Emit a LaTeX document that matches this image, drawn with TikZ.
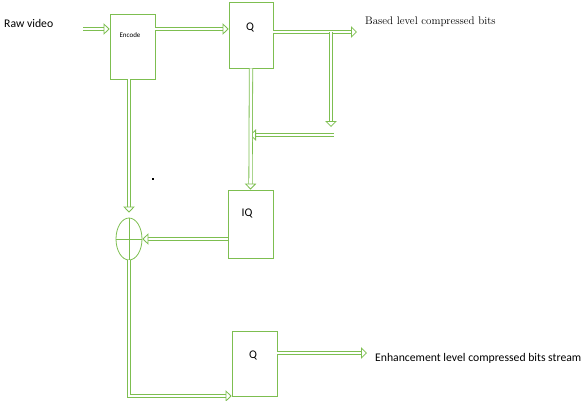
\documentclass[tikz,border=0pt]{standalone}
\usepackage{fontspec}
\setsansfont{Carlito}
\usetikzlibrary{arrows.meta,shapes.geometric}
\definecolor{lg}{RGB}{125,190,80}
\begin{document}
\begin{tikzpicture}[x=1pt,y=-1pt,
 box/.style={draw=lg, line width=0.8pt, minimum width=45pt, minimum height=65pt, inner sep=0pt},
 dbl/.style={draw=lg, line width=0.8pt, double=white, double distance=2.6pt, shorten >=5pt},
 tip/.style={draw=white, line width=0.2pt, -{Triangle[open, length=6pt, width=11.5pt, line width=0.8pt, color=lg, fill=white]}},
 lbl/.style={font=\sffamily\fontsize{11.7}{13}\selectfont, inner sep=0pt}]
\useasboundingbox (0,0) rectangle (583,400);
\node[box] (enc) at (132.5,46.5) {};
\node[lbl, font=\sffamily\fontsize{7}{8}\selectfont] (enct) at (130,35) {Encode};
\node[box, minimum width=44pt, minimum height=66pt] (q1) at (251,35) {};
\node[lbl] (q1t) at (250,27) {Q};
\node[box, minimum height=68pt] (iq) at (250.5,224) {};
\node[lbl] (iqt) at (247,213) {IQ};
\node[box] (q2) at (254.5,363.5) {};
\node[lbl] (q2t) at (253,355) {Q};
\node[draw=lg, line width=0.8pt, ellipse, minimum width=26pt, minimum height=42pt, inner sep=0pt] (add) at (129,239) {};
\draw[lg, line width=0.8pt] (add.north) -- (add.south) (add.west) -- (add.east);
\node[lbl, anchor=west] (raw) at (4,23) {Raw video};
\node[anchor=west, inner sep=0pt, font=\rmfamily\fontsize{11}{13}\selectfont] (base) at (365,22) {Based level compressed bits};
\node[lbl, anchor=west] (enh) at (375,358) {Enhancement level compressed bits stream};
\fill (152,178) rectangle (154,180);
\coordinate (r0) at (83,29);
\coordinate (o1) at (357,32);
\coordinate (b1) at (331,32);
\coordinate (b2) at (331,127);
\coordinate (h1) at (334,135);
\coordinate (h2) at (250,135);
\coordinate (o2) at (367,353);
\coordinate (corner) at (129,396);
\coordinate (encb) at (add.north |- enc.south);
\coordinate (addt) at ([yshift=5pt]add.north);
\draw[dbl] (r0) -- (r0 -| enc.west);
\draw[tip] (r0) -- (r0 -| enc.west);
\draw[dbl] (enc.east |- r0) -- (q1.west |- r0);
\draw[tip] (enc.east |- r0) -- (q1.west |- r0);
\draw[dbl] (q1.east |- o1) -- (o1);
\draw[tip] (q1.east |- o1) -- (o1);
\draw[dbl] (b1) -- (b2);
\draw[tip] (b1) -- (b2);
\draw[dbl] (h1) -- (h2);
\draw[tip] (h1) -- (h2);
\draw[dbl] (q1.south) -- (iq.north);
\draw[tip] (q1.south) -- (iq.north);
\draw[dbl] (encb) -- (addt);
\draw[tip] (encb) -- (addt);
\draw[dbl] (iq.west |- add.center) -- (add.east);
\draw[tip] (iq.west |- add.center) -- (add.east);
\draw[dbl] (add.south) -- (corner) -- (q2.west |- corner);
\draw[tip] (add.south) -- (corner) -- (q2.west |- corner);
\draw[dbl] (q2.east |- o2) -- (o2);
\draw[tip] (q2.east |- o2) -- (o2);
\end{tikzpicture}
\end{document}
